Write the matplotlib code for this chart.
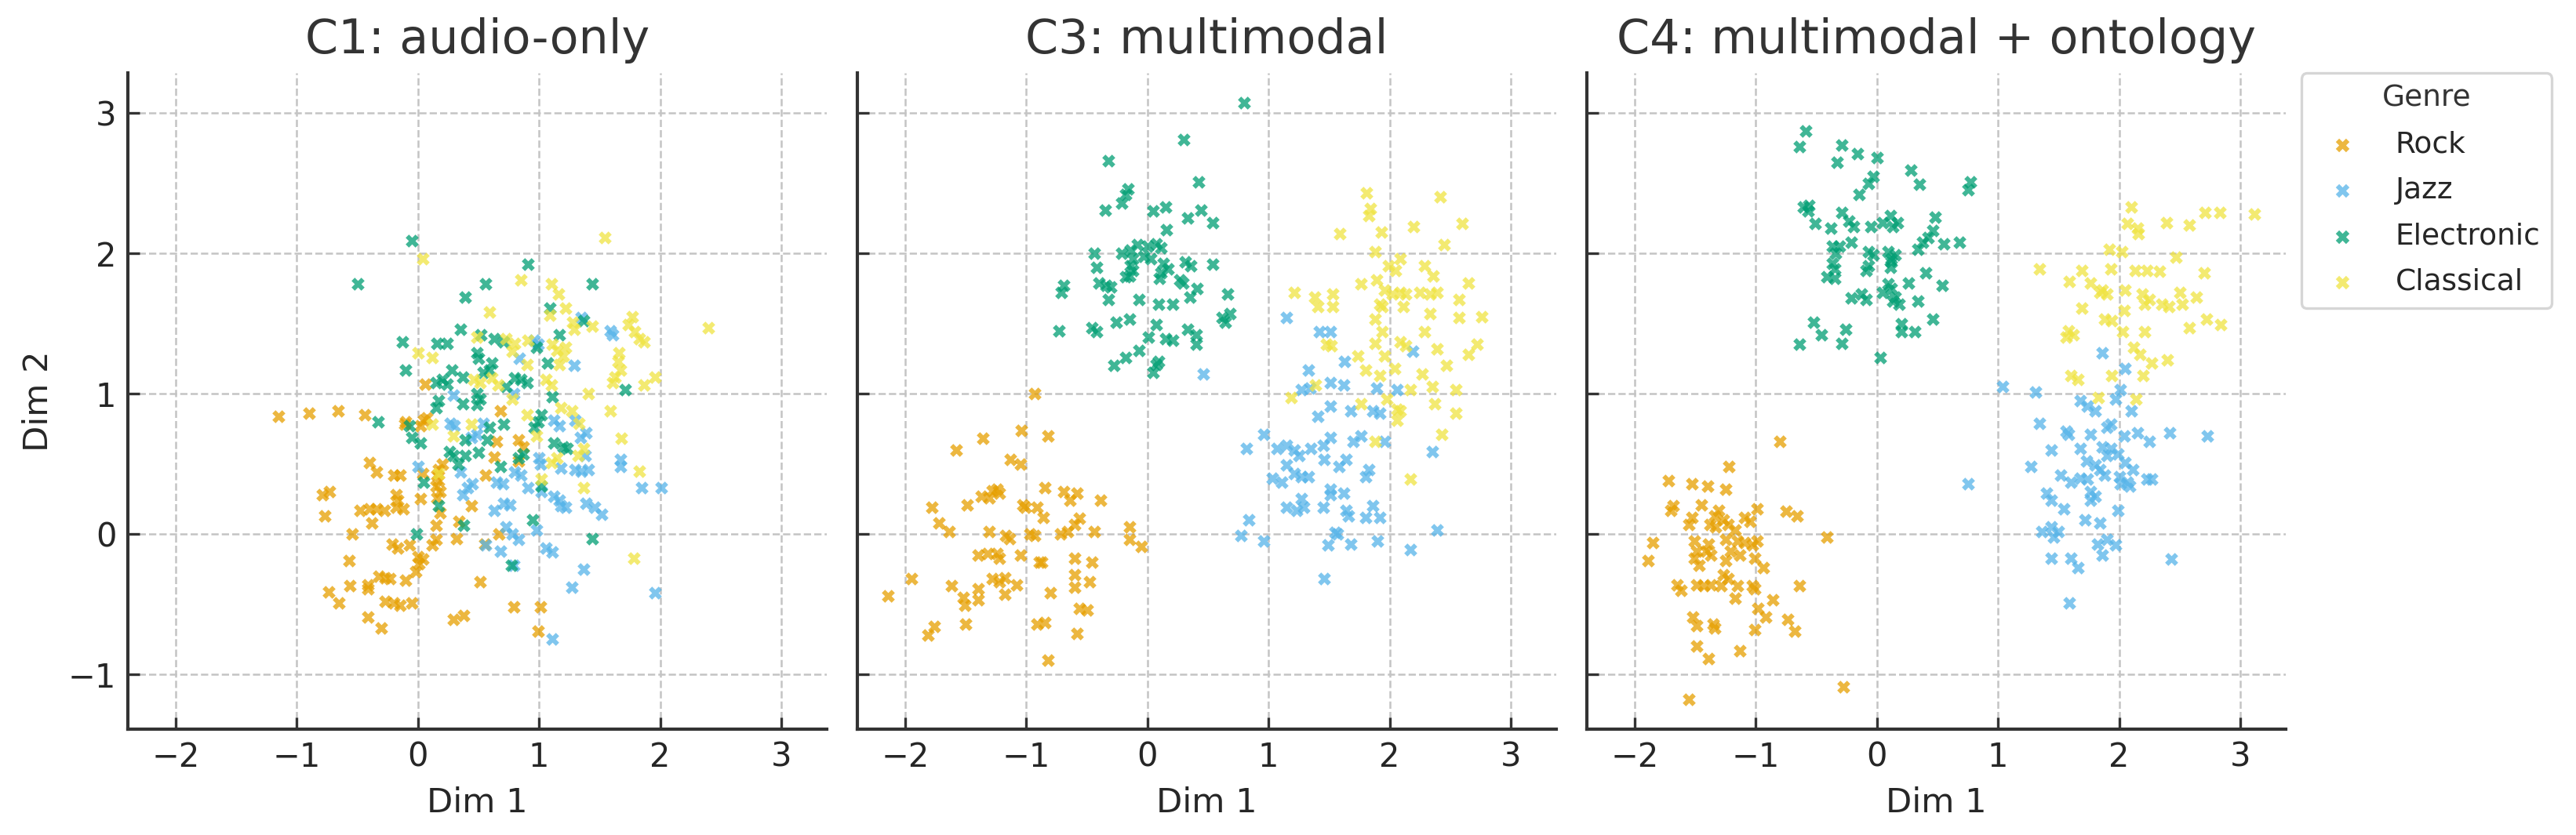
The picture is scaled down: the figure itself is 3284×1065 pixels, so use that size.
import matplotlib
matplotlib.use("Agg")
import matplotlib.pyplot as plt
from matplotlib.ticker import MultipleLocator

genres = ["Rock", "Jazz", "Electronic", "Classical"]
colors = ["#E69F00", "#56B4E9", "#009E73", "#F0E442"]
titles = ["C1: audio-only", "C3: multimodal", "C4: multimodal + ontology"]

# ---------------- C1: audio-only ----------------
c1_rock = [(-1.15,0.84),(-0.90,0.86),(-0.66,0.88),(-0.44,0.85),(-0.10,0.80),(-0.11,0.78),(0.06,1.07),
           (0.05,0.81),(0.07,0.83),(0.02,0.77),(0.68,0.88),(0.65,0.66),(0.83,0.67),(0.87,0.62),(0.63,0.55),
           (0.83,0.52),(-0.40,0.51),(-0.34,0.44),(-0.20,0.42),(-0.15,0.42),(0.20,0.50),(0.17,0.46),(0.16,0.42),
           (0.17,0.38),(0.15,0.34),(0.18,0.30),(0.16,0.26),(0.04,0.43),(0.56,0.42),(-0.79,0.28),(-0.73,0.30),
           (-0.18,0.28),(-0.17,0.24),(0.02,0.25),(-0.77,0.13),(-0.48,0.17),(-0.40,0.18),(-0.34,0.18),(-0.28,0.17),
           (-0.18,0.19),(-0.12,0.18),(-0.38,0.08),(0.44,0.20),(0.18,0.15),(-0.54,0.00),(0.15,0.06),(0.34,0.09),
           (0.67,0.00),(0.32,-0.03),(-0.21,-0.07),(-0.17,-0.10),(-0.07,-0.08),(0.15,-0.04),(0.12,-0.08),(0.55,-0.07),
           (0.00,-0.16),(0.04,-0.18),(0.01,-0.21),(-0.02,-0.27),(-0.57,-0.19),(-0.10,-0.33),(-0.32,-0.30),
           (-0.27,-0.31),(-0.23,-0.32),(-0.56,-0.37),(-0.41,-0.36),(-0.41,-0.39),(-0.74,-0.41),(-0.65,-0.49),
           (-0.27,-0.48),(-0.20,-0.49),(-0.15,-0.51),(-0.05,-0.49),(-0.41,-0.59),(-0.30,-0.67),(0.29,-0.61),
           (0.38,-0.58),(0.51,-0.34),(0.79,-0.52),(1.01,-0.52),(0.99,-0.69)]
c1_jazz = [(1.35,1.54),(1.59,1.45),(1.61,1.42),(1.29,1.20),(0.84,1.25),(0.96,1.38),(0.99,1.35),(0.79,1.00),
           (0.29,0.99),(0.27,0.79),(0.30,0.77),(0.44,0.69),(0.49,0.71),(0.54,0.79),(1.12,0.81),(1.17,0.77),
           (1.30,0.81),(1.39,0.72),(1.34,0.69),(0.00,0.48),(0.35,0.44),(0.45,0.36),(0.41,0.33),(0.37,0.28),
           (0.65,0.37),(0.70,0.36),(0.80,0.44),(0.85,0.42),(0.91,0.33),(1.00,0.54),(1.01,0.50),(1.18,0.47),
           (1.30,0.46),(1.35,0.45),(1.41,0.46),(1.38,0.56),(1.67,0.53),(1.67,0.48),(1.85,0.33),(2.01,0.33),
           (1.02,0.30),(1.12,0.27),(1.17,0.24),(1.18,0.20),(1.22,0.19),(0.71,0.22),(0.76,0.21),(0.63,0.17),
           (1.39,0.22),(1.46,0.19),(1.52,0.14),(0.73,0.05),(0.78,0.00),(0.83,-0.04),(0.98,0.03),(0.56,-0.08),
           (0.68,-0.12),(1.06,-0.10),(1.11,-0.13),(0.79,-0.22),(1.37,-0.25),(1.27,-0.38),(1.96,-0.42),(1.11,-0.75)]
c1_electronic = [(-0.05,2.09),(0.91,1.92),(-0.50,1.78),(0.56,1.78),(1.44,1.78),(0.39,1.69),(1.09,1.61),(1.37,1.52),
                 (1.17,1.42),(-0.13,1.37),(0.16,1.36),(0.24,1.36),(0.35,1.46),(0.52,1.42),(0.63,1.39),(0.71,1.37),
                 (0.49,1.29),(0.50,1.25),(0.98,1.33),(1.07,1.22),(-0.10,1.17),(0.61,1.22),(0.28,1.17),(0.37,1.12),
                 (0.15,1.08),(0.20,1.10),(0.24,1.07),(0.54,1.15),(0.59,1.17),(0.80,1.11),(0.85,1.10),(0.90,1.08),
                 (0.73,1.05),(1.71,1.03),(1.11,0.98),(0.49,1.00),(0.51,0.96),(0.49,0.92),(0.17,0.95),(0.15,0.90),
                 (0.37,0.93),(-0.33,0.80),(-0.07,0.77),(0.71,0.78),(0.59,0.76),(1.02,0.85),(0.99,0.80),(0.96,0.76),
                 (-0.05,0.69),(0.02,0.65),(0.39,0.67),(0.57,0.67),(1.12,0.65),(1.20,0.62),(1.23,0.61),(0.26,0.59),
                 (0.29,0.56),(0.39,0.56),(0.50,0.58),(0.83,0.54),(0.87,0.57),(0.68,0.48),(0.33,0.50),(0.05,0.37),
                 (1.02,0.34),(0.17,0.20),(0.95,0.10),(0.38,0.06),(-0.01,0.00),(1.44,-0.03),(0.77,-0.22)]
c1_classical = [(1.54,2.11),(0.04,1.96),(0.85,1.81),(1.10,1.78),(1.16,1.71),(1.22,1.61),(0.59,1.58),(1.09,1.56),
                (1.28,1.51),(1.29,1.46),(1.44,1.48),(1.77,1.55),(1.74,1.49),(1.79,1.44),(1.83,1.39),(1.87,1.37),
                (2.40,1.47),(0.00,1.29),(0.12,1.26),(0.49,1.40),(0.73,1.39),(0.80,1.36),(0.91,1.38),(0.78,1.30),
                (1.11,1.35),(1.15,1.31),(1.22,1.33),(1.20,1.27),(0.90,1.21),(1.66,1.29),(1.65,1.23),(1.67,1.17),
                (1.63,1.12),(1.61,1.08),(1.96,1.12),(1.87,1.06),(1.41,1.00),(1.59,0.88),(1.17,1.21),(0.61,1.11),
                (0.66,1.06),(0.46,1.10),(0.51,1.08),(0.78,0.96),(1.06,1.10),(1.10,1.06),(1.18,0.90),(1.27,0.88),
                (0.90,0.85),(0.12,0.78),(0.29,0.70),(0.44,0.78),(0.98,0.70),(1.33,0.79),(1.68,0.68),(1.37,0.61),
                (1.32,0.56),(1.10,0.51),(1.15,0.54),(0.17,0.43),(1.02,0.39),(1.83,0.45),(1.37,0.33),(1.78,-0.17)]

# ---------------- C3: multimodal ----------------
c3_rock = [(-0.93,1.00),(-1.04,0.74),(-0.82,0.70),(-1.36,0.68),(-1.58,0.60),(-1.13,0.53),(-1.05,0.50),
           (-0.85,0.33),(-1.28,0.31),(-1.24,0.32),(-1.22,0.29),(-1.37,0.27),(-1.31,0.26),(-0.69,0.30),(-0.58,0.29),
           (-0.64,0.24),(-0.39,0.24),(-1.49,0.21),(-1.03,0.21),(-1.01,0.19),(-0.91,0.19),(-1.78,0.19),(-0.86,0.12),
           (-1.72,0.08),(-1.64,0.02),(-0.56,0.11),(-0.60,0.07),(-0.66,0.02),(-0.72,0.00),(-1.31,0.02),(-1.14,-0.03),
           (-1.17,-0.01),(-0.97,0.00),(-0.93,-0.01),(-0.44,0.02),(-0.15,0.05),(-0.15,-0.04),(-0.05,-0.09),
           (-1.40,-0.15),(-1.32,-0.14),(-1.22,-0.17),(-1.24,-0.14),(-1.05,-0.15),(-0.89,-0.20),(-0.87,-0.20),
           (-0.60,-0.17),(-0.46,-0.20),(-0.60,-0.29),(-1.28,-0.32),(-1.22,-0.34),(-1.18,-0.31),(-1.08,-0.36),
           (-1.62,-0.37),(-1.40,-0.39),(-1.40,-0.47),(-1.18,-0.43),(-0.60,-0.38),(-0.48,-0.34),(-1.52,-0.45),
           (-1.51,-0.51),(-1.95,-0.32),(-2.14,-0.44),(-0.80,-0.42),(-0.56,-0.53),(-0.50,-0.54),(-1.50,-0.64),
           (-1.76,-0.66),(-1.81,-0.72),(-0.91,-0.64),(-0.85,-0.63),(-0.58,-0.71),(-0.82,-0.90)]
c3_jazz = [(1.15,1.54),(1.42,1.44),(1.51,1.44),(0.46,1.14),(1.63,1.23),(1.33,1.17),(2.19,1.30),(1.27,1.03),
           (1.34,1.04),(1.51,1.08),(1.62,1.06),(1.89,1.04),(2.06,1.03),(1.51,0.91),(1.41,0.84),(1.68,0.88),
           (1.86,0.88),(1.92,0.86),(0.96,0.71),(0.82,0.61),(1.07,0.61),(1.15,0.63),(1.21,0.60),(1.25,0.56),
           (1.35,0.61),(1.45,0.63),(1.51,0.69),(1.70,0.66),(1.76,0.70),(1.96,0.66),(1.46,0.53),(1.64,0.53),
           (1.58,0.48),(2.35,0.59),(1.15,0.49),(1.03,0.40),(1.11,0.37),(1.21,0.43),(1.27,0.41),(1.33,0.41),
           (1.51,0.32),(1.51,0.28),(1.62,0.29),(1.80,0.41),(1.83,0.46),(1.27,0.25),(1.15,0.19),(1.23,0.17),
           (1.29,0.19),(1.45,0.19),(1.64,0.17),(1.66,0.13),(1.86,0.20),(1.80,0.12),(1.92,0.12),(0.84,0.10),
           (0.77,-0.01),(0.96,-0.05),(1.55,0.01),(2.39,0.03),(1.49,-0.08),(1.57,0.00),(1.68,-0.07),(1.90,-0.05),
           (2.17,-0.11),(1.46,-0.32)]
c3_electronic = [(0.80,3.07),(0.30,2.81),(-0.32,2.66),(0.42,2.51),(-0.16,2.46),(-0.18,2.42),(-0.21,2.36),
                 (-0.35,2.31),(0.05,2.30),(0.15,2.33),(0.44,2.31),(0.33,2.25),(0.54,2.22),(0.16,2.17),(-0.44,2.00),
                 (-0.21,2.00),(-0.14,2.02),(-0.08,2.06),(0.00,2.05),(0.07,2.07),(0.11,2.04),(-0.12,1.96),
                 (-0.03,1.98),(0.03,1.96),(-0.42,1.90),(-0.14,1.91),(-0.12,1.88),(0.13,1.93),(0.17,1.89),(0.31,1.94),
                 (0.36,1.91),(0.54,1.92),(-0.18,1.83),(-0.15,1.84),(0.10,1.82),(0.11,1.86),(0.27,1.81),(0.29,1.79),
                 (-0.69,1.77),(-0.71,1.72),(-0.40,1.79),(-0.34,1.77),(-0.30,1.76),(0.41,1.75),(-0.07,1.67),
                 (0.09,1.64),(0.21,1.64),(0.35,1.69),(0.66,1.71),(-0.32,1.67),(0.68,1.57),(0.62,1.54),(0.64,1.51),
                 (-0.73,1.45),(-0.46,1.47),(-0.42,1.44),(-0.26,1.51),(-0.15,1.53),(0.07,1.49),(0.33,1.46),(0.40,1.42),
                 (0.01,1.40),(0.15,1.39),(0.21,1.38),(0.40,1.35),(-0.07,1.31),(-0.18,1.26),(-0.28,1.20),(0.09,1.23),
                 (0.07,1.21),(0.05,1.15)]
c3_classical = [(1.81,2.43),(1.84,2.32),(1.83,2.27),(2.42,2.40),(1.59,2.14),(1.93,2.15),(2.20,2.19),(2.60,2.21),
                (2.45,2.06),(1.88,2.01),(2.09,1.96),(1.99,1.91),(2.05,1.88),(2.29,1.91),(2.36,1.84),(2.65,1.79),
                (1.21,1.72),(1.38,1.69),(1.53,1.71),(1.76,1.78),(1.89,1.81),(1.96,1.74),(2.02,1.71),(2.09,1.72),
                (2.13,1.71),(2.25,1.72),(2.33,1.71),(2.39,1.72),(1.92,1.64),(1.94,1.62),(2.57,1.67),(1.41,1.62),
                (1.53,1.62),(2.11,1.62),(2.33,1.57),(2.57,1.54),(2.76,1.55),(1.88,1.53),(1.94,1.44),(2.29,1.44),
                (1.48,1.35),(1.52,1.34),(1.88,1.36),(2.09,1.37),(2.13,1.34),(2.39,1.32),(2.72,1.35),(2.65,1.28),
                (1.74,1.27),(1.96,1.27),(2.04,1.18),(1.80,1.17),(2.27,1.14),(2.47,1.20),(1.39,1.06),(1.19,0.97),
                (1.92,1.13),(2.17,1.03),(2.35,1.05),(2.55,1.03),(1.76,0.93),(1.98,0.96),(2.06,0.89),(2.09,0.88),
                (2.37,0.93),(2.55,0.86),(2.06,0.81),(2.43,0.71),(1.88,0.66),(2.17,0.39)]

# ---------------- C4: multimodal + ontology ----------------
c4_rock = [(-0.80,0.66),(-1.22,0.48),(-1.72,0.38),(-1.53,0.36),(-1.40,0.34),(-1.25,0.32),(-1.68,0.20),
           (-1.70,0.17),(-1.45,0.21),(-1.31,0.17),(-1.34,0.13),(-1.27,0.10),(-0.99,0.18),(-0.75,0.16),(-0.66,0.13),
           (-1.09,0.12),(-1.05,0.09),(-1.53,0.12),(-1.55,0.07),(-1.38,0.07),(-1.33,0.05),(-1.23,0.07),(-1.17,0.03),
           (-0.41,-0.02),(-1.85,-0.06),(-1.89,-0.19),(-1.51,-0.05),(-1.49,-0.12),(-1.51,-0.17),(-1.39,-0.07),
           (-1.41,-0.12),(-1.37,-0.15),(-1.25,-0.04),(-1.15,-0.05),(-1.09,-0.06),(-1.03,-0.08),(-0.99,-0.05),
           (-1.21,-0.12),(-1.25,-0.19),(-1.13,-0.15),(-1.01,-0.17),(-0.94,-0.24),(-1.47,-0.22),(-1.27,-0.29),
           (-1.23,-0.32),(-1.65,-0.36),(-1.62,-0.40),(-1.49,-0.36),(-1.43,-0.37),(-1.37,-0.36),(-1.29,-0.37),
           (-1.15,-0.37),(-1.17,-0.46),(-1.03,-0.37),(-1.01,-0.39),(-0.64,-0.37),(-0.86,-0.47),(-0.98,-0.53),
           (-0.92,-0.59),(-1.52,-0.59),(-1.49,-0.65),(-1.35,-0.64),(-1.34,-0.67),(-0.74,-0.61),(-0.68,-0.69),
           (-1.01,-0.68),(-1.49,-0.80),(-1.39,-0.89),(-1.13,-0.83),(-1.55,-1.18),(-0.28,-1.09)]
c4_jazz = [(1.86,1.29),(2.05,1.18),(1.04,1.05),(1.31,1.01),(2.01,1.03),(1.68,0.95),(1.74,0.91),(1.80,0.88),
           (1.97,0.96),(2.10,0.88),(1.34,0.79),(1.90,0.76),(1.93,0.78),(1.56,0.73),(1.58,0.71),(1.76,0.71),
           (2.04,0.70),(2.15,0.72),(2.25,0.66),(2.42,0.72),(2.73,0.70),(1.44,0.60),(1.68,0.61),(1.86,0.62),
           (1.93,0.61),(1.99,0.57),(1.27,0.48),(1.73,0.52),(1.80,0.49),(1.84,0.46),(1.90,0.56),(2.05,0.51),
           (2.11,0.46),(1.52,0.42),(1.60,0.37),(1.68,0.40),(1.74,0.39),(1.88,0.42),(2.00,0.41),(2.01,0.36),
           (2.07,0.37),(2.09,0.34),(2.23,0.39),(2.27,0.39),(0.75,0.36),(1.40,0.29),(1.44,0.24),(1.76,0.30),
           (1.80,0.27),(1.76,0.24),(1.54,0.18),(1.99,0.17),(1.72,0.10),(1.84,0.08),(1.36,0.02),(1.44,0.05),
           (1.50,0.02),(1.46,-0.02),(1.82,-0.07),(1.90,-0.04),(1.97,-0.08),(1.86,-0.15),(1.44,-0.17),
           (1.60,-0.17),(1.66,-0.24),(2.43,-0.18),(1.59,-0.49)]
c4_electronic = [(-0.59,2.87),(-0.64,2.76),(-0.29,2.77),(-0.33,2.65),(-0.16,2.71),(0.00,2.68),(0.28,2.59),
                 (0.35,2.49),(0.77,2.51),(0.75,2.45),(-0.03,2.55),(-0.07,2.50),(-0.15,2.42),(-0.61,2.33),
                 (-0.56,2.34),(-0.57,2.30),(-0.51,2.21),(-0.29,2.29),(-0.38,2.18),(-0.23,2.23),(-0.19,2.19),
                 (-0.05,2.19),(0.05,2.22),(0.11,2.27),(0.13,2.19),(0.17,2.22),(0.48,2.26),(0.46,2.16),(0.42,2.11),
                 (0.38,2.08),(0.55,2.07),(0.68,2.08),(-0.37,2.05),(-0.31,2.05),(-0.34,2.00),(-0.21,2.08),
                 (-0.07,2.01),(-0.03,1.99),(0.09,2.01),(0.15,1.99),(0.12,1.96),(0.34,2.03),(-0.37,1.93),(-0.35,1.89),
                 (-0.07,1.91),(-0.09,1.88),(0.12,1.94),(0.11,1.90),(0.40,1.86),(-0.41,1.83),(-0.35,1.82),(0.26,1.79),
                 (0.54,1.77),(0.09,1.78),(0.12,1.75),(0.05,1.72),(-0.21,1.68),(-0.13,1.71),(-0.09,1.67),(0.15,1.69),
                 (0.18,1.64),(0.13,1.66),(0.34,1.66),(0.46,1.53),(-0.52,1.51),(-0.46,1.42),(-0.26,1.46),
                 (-0.29,1.36),(-0.64,1.35),(0.20,1.50),(0.20,1.44),(0.31,1.44),(0.03,1.26)]
c4_classical = [(2.10,2.33),(2.07,2.21),(2.15,2.18),(2.16,2.14),(2.39,2.22),(2.58,2.20),(2.71,2.29),(2.83,2.29),
                (3.12,2.28),(1.92,2.03),(2.02,2.01),(1.34,1.89),(1.69,1.88),(1.93,1.89),(2.13,1.88),(2.23,1.88),
                (2.33,1.87),(2.47,1.97),(2.70,1.86),(1.59,1.80),(1.76,1.79),(1.86,1.74),(1.90,1.71),(1.84,1.72),
                (2.05,1.74),(2.19,1.71),(2.25,1.67),(2.21,1.64),(2.35,1.64),(2.41,1.62),(2.50,1.72),(2.52,1.64),
                (2.64,1.69),(1.69,1.61),(1.88,1.53),(1.94,1.52),(2.04,1.59),(2.58,1.47),(2.72,1.53),(2.84,1.49),
                (1.58,1.45),(1.62,1.42),(1.56,1.40),(2.03,1.44),(2.21,1.44),(2.12,1.33),(2.17,1.28),(2.27,1.22),
                (2.40,1.24),(1.60,1.13),(1.66,1.10),(1.94,1.13),(2.20,1.13),(1.83,0.97),(2.14,0.96)]

panels = [
    [c1_rock, c1_jazz, c1_electronic, c1_classical],
    [c3_rock, c3_jazz, c3_electronic, c3_classical],
    [c4_rock, c4_jazz, c4_electronic, c4_classical],
]

TEXT = "#262626"
plt.rcParams["font.family"] = ["DejaVu Sans"]

fig = plt.figure(figsize=(3284 / 300, 1065 / 300), dpi=300)
lefts = [163 / 3284, 1093 / 3284, 2023 / 3284]
bottom = 1 - 930 / 1065
width = 891 / 3284
height = 837 / 1065

axes = []
for i, (left, title, data) in enumerate(zip(lefts, titles, panels)):
    ax = fig.add_axes([left, bottom, width, height])
    axes.append(ax)
    for g, col, pts in zip(genres, colors, data):
        xs = [p[0] for p in pts]
        ys = [p[1] for p in pts]
        ax.scatter(xs, ys, marker="X", s=16, color=col, alpha=0.75,
                   linewidths=0, label=g, zorder=3)
    ax.set_xlim(-2.395, 3.376)
    ax.set_ylim(-1.39, 3.285)
    ax.xaxis.set_major_locator(MultipleLocator(1))
    ax.yaxis.set_major_locator(MultipleLocator(1))
    ax.grid(True, linestyle="--", linewidth=0.6, color="#c4c4c4", zorder=0)
    ax.set_axisbelow(True)
    for side in ["top", "right"]:
        ax.spines[side].set_visible(False)
    for side in ["left", "bottom"]:
        ax.spines[side].set_color("#333333")
        ax.spines[side].set_linewidth(1.0)
    ax.tick_params(direction="in", length=3.5, width=0.8, colors="#333333",
                   labelsize=10, labelcolor=TEXT)
    ax.set_title(title, fontsize=14.5, color="#333333", pad=6)
    ax.set_xlabel("Dim 1", fontsize=10.4, color=TEXT)
    if i == 0:
        ax.set_ylabel("Dim 2", fontsize=10.4, color=TEXT)
    else:
        ax.tick_params(labelleft=False)

leg = axes[2].legend(title="Genre", loc="upper left", bbox_to_anchor=(1.022, 1.0),
                     borderaxespad=0, fontsize=9, title_fontsize=9, frameon=True,
                     fancybox=True, labelspacing=0.6, markerscale=1.05)
leg.get_frame().set_edgecolor("#cccccc")
leg.get_frame().set_linewidth(0.8)
for t in leg.get_texts():
    t.set_color(TEXT)
leg.get_title().set_color("#333333")
for h in leg.legend_handles:
    h.set_alpha(0.75)

fig.savefig("out.png", dpi=300)
